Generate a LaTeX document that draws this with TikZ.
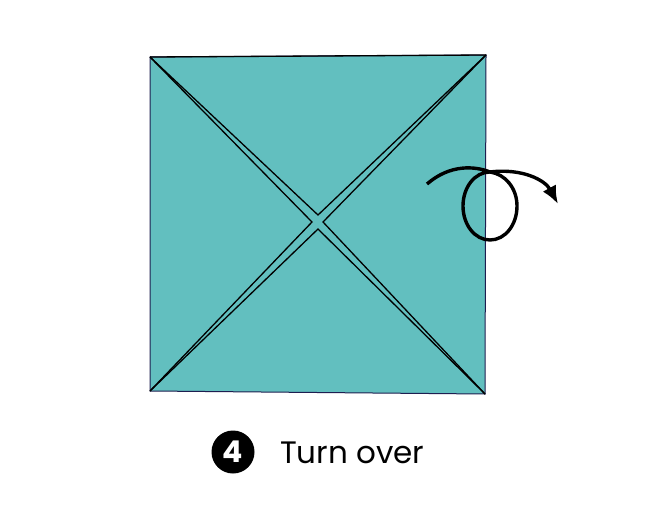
\documentclass[tikz,border=0pt]{standalone}
\usepackage{fontspec}
\setmainfont{Poppins}
\usetikzlibrary{arrows.meta}
\definecolor{paper}{HTML}{62BFBF}
\definecolor{edge}{HTML}{1E1E50}
\tikzset{
  crease/.style={line width=1.3pt, black},
  turnarrow/.style={line width=3.4pt, black, -{Latex[length=18pt,width=15pt]}},
}
\begin{document}
\begin{tikzpicture}[x=1pt,y=-1pt]
\useasboundingbox (0,0) rectangle (647,527);
\coordinate (tl) at (150,57);
\coordinate (tr) at (486,55);
\coordinate (br) at (485,394);
\coordinate (bl) at (150,391);
\coordinate (ct) at (318,215);
\coordinate (cl) at (312,222);
\coordinate (cr) at (323,222);
\coordinate (cb) at (318,229);
\fill[paper] (tl) -- (tr) -- (br) -- (bl) -- cycle;
\draw[edge, line width=1pt] (tl) -- (tr) -- (br) -- (bl) -- cycle;
\draw[crease] (tl) -- (tr);
\draw[crease] (tl) -- (ct) -- (tr);
\draw[crease] (tl) -- (cl) -- (bl);
\draw[crease] (tr) -- (cr) -- (br);
\draw[crease] (bl) -- (cb) -- (br);
\draw[turnarrow] (427,184) .. controls (450,164) and (475,166) .. (490,172)
  .. controls (505,174) and (517,188) .. (517,206)
  .. controls (517,225) and (505,240) .. (490,240)
  .. controls (475,240) and (463,225) .. (463,206)
  .. controls (463,187) and (475,172) .. (490,172)
  .. controls (522,168) and (545,180) .. (558,204);
\node[circle, fill=black, minimum size=43pt, inner sep=0pt, text=white, font=\bfseries\fontsize{30}{30}\selectfont] (num) at (233,452) {4};
\node[anchor=base west, inner sep=0pt, font=\fontsize{31}{31}\selectfont] (label) at (280,463) {Turn over};
\end{tikzpicture}
\end{document}
